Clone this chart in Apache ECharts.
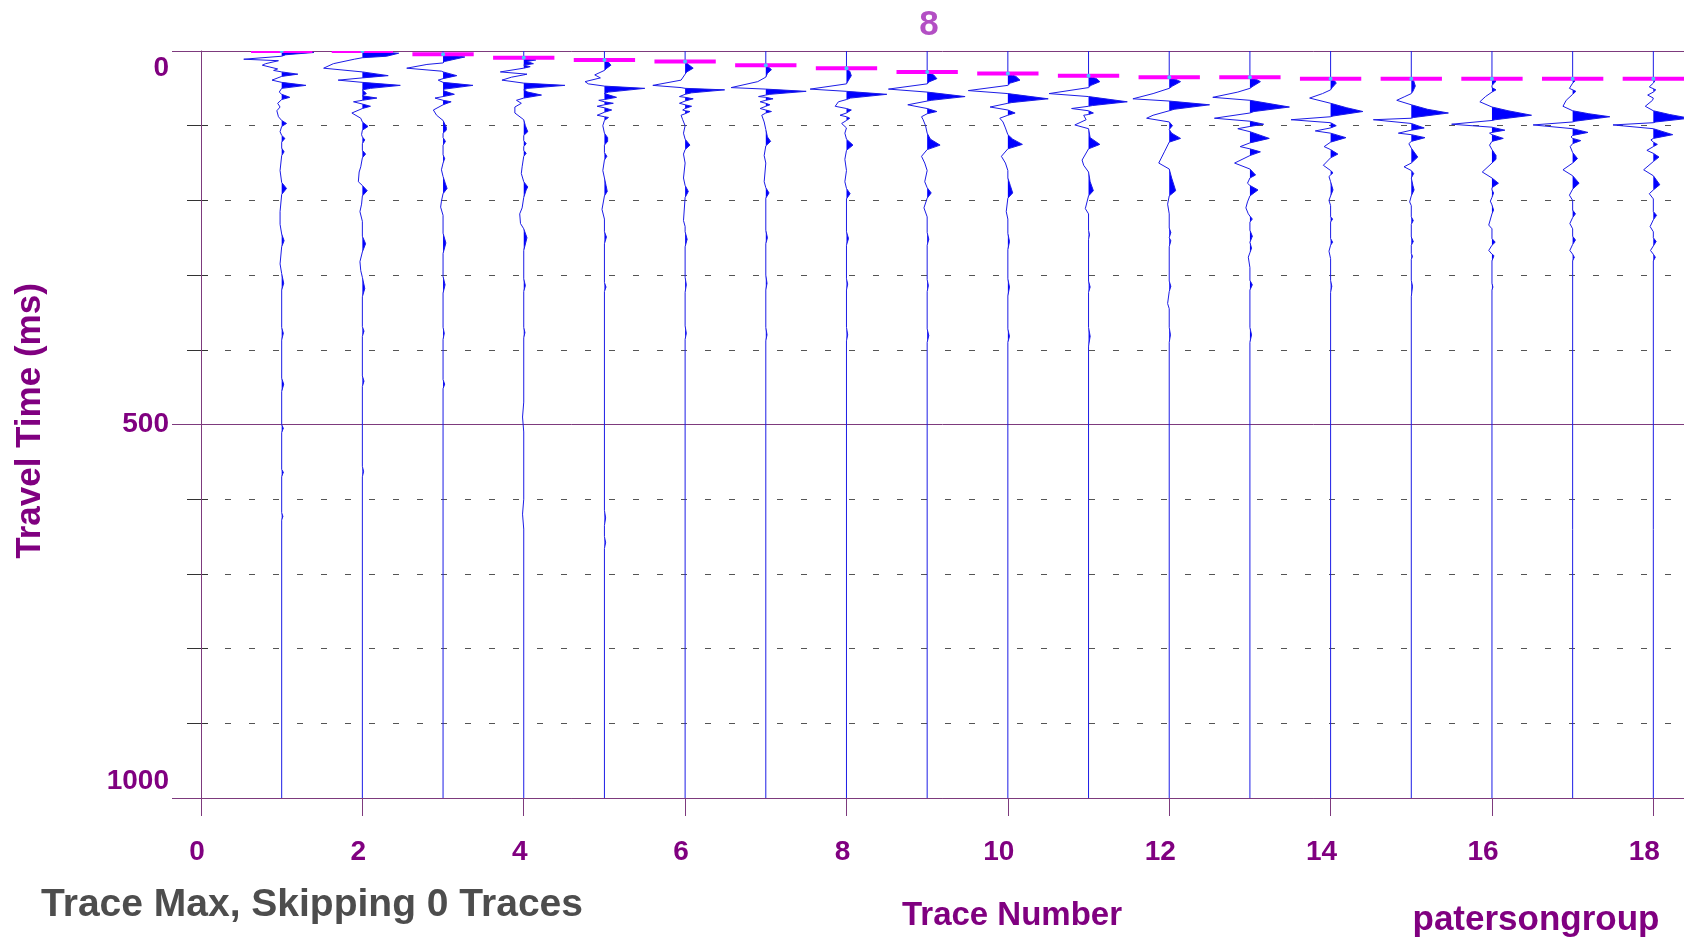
<!DOCTYPE html>
<html>
<head>
<meta charset="utf-8">
<script src="https://cdn.jsdelivr.net/npm/echarts@6.0.0/dist/echarts.min.js"></script>
<style>
html,body{margin:0;padding:0;background:#ffffff;}
#chart{width:1684px;height:940px;}
</style>
</head>
<body>
<div id="chart"></div>
<script>
// ---------------- DATA ----------------
// Trace numbers (x positions of the traces)
const TRACE_NUMBERS = [1,2,3,4,5,6,7,8,9,10,11,12,13,14,15,16,17,18];
// First-break picks (ms) for each trace (magenta marks)
const PICKS = [0,0,4.5,9,12,14,19,23,28,30,33,35,35,37,37,37,37,37];
// X tick labels
const X_TICK_LABELS = [0,2,4,6,8,10,12,14,16,18];
// Y tick labels (ms)
const Y_TICK_LABELS = [0,500,1000];

// Each trace: [time ms, amplitude in trace-spacing units] (positive = to the right, filled)
const TRACE_1 = [[0,0],[2,0.40],[5,0.05],[7,0],[11,-0.47],[13,-0.04],[17,-0.20],[19,-0.24],[24,-0.05],[26,-0.10],[28,0],[31,0.20],[34,0],[39,-0.12],[42,0],[46,0.30],[50,0],[55,-0.03],[58,0],[62,0.10],[65,0],[70,-0.05],[75,-0.02],[80,-0.06],[88,-0.04],[93,0],[97,0.06],[101,0],[108,-0.02],[113,0],[117,0.04],[122,0],[130,0],[135,0.03],[140,0],[160,-0.02],[176,0],[184,0.06],[192,0],[215,-0.02],[232,-0.02],[245,0],[254,0.03],[262,0],[285,-0.02],[298,0],[311,0.025],[320,0],[370,0],[378,0.02],[387,0],[438,0],[446,0.025],[456,0],[500,0],[505,0.02],[511,0],[560,0],[564,0.02],[570,0],[618,0],[623,0.015],[628,0],[1000,0]];
const TRACE_2 = [[0,0],[3,0.45],[7,0.30],[9,0],[11,-0.10],[17,-0.36],[23,-0.48],[28,0],[33,0.32],[36,0],[39,-0.30],[42,0],[46,0.47],[50,0.10],[52,0],[57,0.05],[60,0],[63,0.18],[66,0],[68,-0.11],[71,0],[74,0.10],[77,0],[83,-0.13],[90,-0.02],[95,0],[101,0.07],[106,0],[112,-0.01],[115,0],[119,0.03],[124,0],[133,0],[138,0.04],[143,0],[155,-0.02],[162,-0.04],[175,-0.05],[180,0],[187,0.06],[194,0],[205,-0.01],[215,-0.03],[228,0],[248,0],[258,0.04],[269,0],[282,-0.03],[294,-0.02],[303,0],[318,0.03],[329,0],[369,0],[375,0.02],[382,0],[435,0],[442,0.02],[449,0],[556,0],[563,0.015],[570,0],[1000,0]];
const TRACE_3 = [[0,0],[4,0],[8,0.27],[14,0.02],[16,0],[18,-0.20],[23,-0.45],[27,-0.02],[28,0],[33,0.17],[37,0],[39,-0.06],[42,0],[46,0.37],[51,0.02],[53,0],[58,0.14],[61,0],[63,-0.10],[66,0],[68,0.10],[72,0],[79,-0.12],[86,-0.08],[93,0],[102,0.04],[106,0.04],[110,0],[116,0],[121,0.03],[126,0],[139,0],[144,0.02],[150,0],[159,-0.02],[168,0],[178,0.03],[184,0.05],[191,0],[201,-0.02],[209,-0.03],[220,0],[244,0],[257,0.035],[271,0],[302,0],[313,0.025],[324,0],[370,0],[378,0.015],[386,0],[440,0],[446,0.02],[452,0],[1000,0]];
const TRACE_4 = [[0,0],[9,0],[12,0.15],[14,0.04],[17,0.12],[19,0],[21,0.08],[23,0],[28,-0.29],[31,0.04],[32,0],[35,-0.15],[39,-0.27],[43,0],[46,0.51],[50,0.05],[52,0],[55,0.05],[59,0.22],[63,0],[66,-0.09],[70,-0.03],[75,-0.11],[83,-0.11],[92,0],[100,0.02],[108,0.05],[113,0],[120,0],[124,0.03],[128,0],[133,0],[137,0.03],[141,0],[155,-0.02],[164,-0.03],[175,0],[182,0.05],[186,0.03],[196,0],[210,-0.02],[218,-0.05],[231,-0.04],[238,0],[250,0.04],[267,0],[305,0],[314,0.02],[322,0],[370,0],[377,0.015],[384,0],[470,0],[490,-0.015],[510,0],[600,0],[620,-0.015],[640,0],[1000,0]];
const TRACE_5 = [[0,0],[12,0],[15,0.05],[19,0.08],[23,0.03],[26,0],[32,-0.12],[36,-0.05],[41,-0.24],[44,-0.20],[47,0],[50,0.50],[55,0.05],[57,0],[62,0.15],[65,0],[66,-0.07],[68,0],[70,0.11],[72,0],[74,-0.09],[76,0],[79,0.09],[82,0],[86,-0.09],[88,0],[89,0.05],[93,0],[100,-0.02],[110,0],[116,0.04],[121,0.04],[126,0],[136,0],[141,0.03],[146,0],[160,-0.02],[170,0],[180,0.02],[188,0.035],[194,0],[212,-0.03],[225,0],[242,0],[249,0.025],[258,0],[310,0],[316,0.02],[322,0],[615,0],[625,0.015],[635,0],[650,0],[658,0.015],[666,0],[1000,0]];
const TRACE_6 = [[0,0],[14,0],[18,0.04],[23,0.10],[28,0.02],[31,0],[39,-0.05],[46,-0.40],[49,-0.05],[50,0],[52,0.49],[56,0.08],[58,0],[61,-0.07],[62,0],[64,0.10],[67,0],[70,-0.07],[72,0],[74,0.08],[77,0],[79,-0.03],[80,0],[81,0.06],[84,0],[86,-0.05],[92,-0.03],[100,0],[110,-0.02],[118,0],[126,0.06],[132,0],[138,-0.02],[150,0],[170,-0.02],[180,0],[188,0.04],[196,0],[227,-0.02],[235,0],[242,0],[252,0.025],[262,0],[303,0],[313,0.015],[323,0],[368,0],[378,0.015],[386,0],[1000,0]];
const TRACE_7 = [[0,0],[19,0],[22,0.04],[25,0.07],[30,0.02],[35,0],[41,-0.10],[49,-0.43],[51,0],[54,0.50],[58,0.05],[59,0],[61,-0.09],[62,0],[64,0.09],[66,0],[68,-0.07],[70,0],[72,0.05],[74,0],[77,-0.07],[79,0],[81,0.07],[83,0],[86,-0.05],[95,-0.02],[105,0],[115,0.02],[121,0.06],[127,0],[140,-0.02],[150,0],[175,-0.02],[183,0],[190,0.04],[197,0],[240,0],[250,0.02],[258,0],[300,0],[311,0.015],[320,0],[370,0],[380,0.015],[388,0],[1000,0]];
const TRACE_8 = [[0,0],[23,0],[27,0.04],[33,0.06],[40,0.02],[44,0],[51,-0.45],[54,0],[58,0.50],[63,0.05],[65,0],[68,-0.10],[74,-0.14],[77,0],[79,0.06],[83,0],[86,-0.08],[88,0],[90,0.04],[93,0],[97,-0.06],[103,0],[110,-0.02],[118,0],[126,0.08],[133,0],[145,-0.02],[160,0],[175,-0.02],[184,0],[191,0.045],[198,0],[242,0],[251,0.025],[260,0],[305,0],[312,0.015],[320,0],[370,0],[380,0.015],[388,0],[1000,0]];
const TRACE_9 = [[0,0],[28,0],[32,0.08],[37,0.12],[41,0.03],[44,0],[51,-0.48],[55,0],[61,0.47],[66,0.05],[67,0],[72,-0.24],[77,0],[81,0.12],[84,0],[88,-0.07],[92,-0.05],[100,-0.02],[110,0],[118,0.04],[126,0.16],[132,0],[141,-0.07],[150,-0.03],[160,0],[175,-0.03],[183,0],[190,0.05],[197,0],[210,-0.04],[222,0],[243,0],[252,0.02],[260,0],[306,0],[314,0.015],[322,0],[372,0],[381,0.02],[390,0],[1000,0]];
const TRACE_10 = [[0,0],[30,0],[34,0.10],[39,0.15],[43,0.03],[46,0],[53,-0.49],[57,0],[64,0.50],[69,0.05],[70,0],[75,-0.22],[79,0],[83,0.09],[86,0],[90,-0.10],[95,-0.06],[103,-0.03],[112,0],[118,0.06],[125,0.18],[131,0],[141,-0.08],[150,-0.03],[160,0],[170,0],[180,0.03],[190,0.06],[197,0],[215,-0.02],[225,0],[244,0],[255,0.02],[266,0],[305,0],[316,0.02],[328,0],[372,0],[382,0.02],[390,0],[1000,0]];
const TRACE_11 = [[0,0],[33,0],[37,0.10],[41,0.14],[46,0.03],[49,0],[57,-0.49],[61,0],[68,0.48],[73,0.05],[74,0],[77,-0.21],[80,0],[83,0.06],[85,0],[86,-0.06],[92,-0.03],[99,-0.17],[104,0],[116,0.02],[125,0.14],[131,0],[146,-0.08],[153,-0.06],[162,0],[175,0.02],[187,0.06],[194,0],[211,-0.04],[218,0],[240,0],[246,0.012],[252,0],[308,0],[316,0.02],[323,0],[370,0],[382,0.02],[395,0],[1000,0]];
const TRACE_12 = [[0,0],[35,0],[38,0.08],[41,0.14],[47,0.04],[50,0],[57,-0.20],[64,-0.45],[67,0],[72,0.50],[78,0.06],[80,0],[86,-0.20],[90,-0.28],[95,0],[100,0.04],[105,0],[110,0.03],[117,0.14],[122,0],[135,-0.06],[150,-0.13],[158,0],[170,0.03],[187,0.08],[194,0],[205,-0.02],[218,0],[237,0],[243,0.02],[250,0],[254,0.02],[262,0],[308,0],[315,0.02],[322,0],[338,-0.02],[345,0],[370,0],[380,0.015],[390,0],[1000,0]];
const TRACE_13 = [[0,0],[35,0],[38,0.08],[41,0.13],[47,0.04],[50,0],[55,-0.15],[62,-0.46],[66,0],[75,0.49],[81,0.05],[83,0],[90,-0.44],[94,0],[98,0.17],[101,0],[104,-0.15],[108,0],[117,0.24],[123,0],[128,-0.12],[131,0],[135,0.13],[140,0],[150,-0.19],[158,0],[166,0.07],[170,0],[177,-0.03],[180,0],[186,0.10],[194,0],[202,-0.03],[210,-0.05],[218,-0.02],[221,0],[225,0.03],[229,0],[240,0],[248,0.03],[256,0],[264,0.02],[270,0],[276,-0.02],[290,0],[307,0],[313,0.03],[320,0],[370,0],[380,0.02],[390,0],[1000,0]];
const TRACE_14 = [[0,0],[37,0],[40,0.05],[43,0.07],[49,0.02],[52,0],[57,-0.10],[63,-0.26],[70,0],[76,0.20],[81,0.40],[87,0.03],[88,0],[92,-0.49],[96,0],[100,0.07],[103,0],[107,-0.19],[110,0],[116,0.19],[122,0],[128,-0.08],[132,0],[138,0.09],[143,0],[153,-0.09],[160,0],[163,0.03],[166,0],[168,-0.02],[175,0],[186,0.03],[194,0],[200,-0.02],[207,0],[222,0],[225,0.025],[229,0],[251,0],[256,0.025],[260,0],[268,-0.02],[278,0],[307,0],[315,0.015],[323,0],[1000,0]];
const TRACE_15 = [[0,0],[37,0],[40,0.03],[47,0.05],[54,0.02],[57,0],[61,-0.08],[66,-0.18],[72,0],[78,0.20],[83,0.46],[89,0.03],[90,0],[92,-0.47],[97,0],[103,0.16],[106,0],[110,-0.16],[112,0],[116,0.17],[121,0],[124,-0.03],[130,0],[142,0.08],[150,0],[155,-0.09],[160,0],[164,0.03],[170,0],[180,0.02],[186,0.035],[194,0],[202,-0.02],[207,0],[222,0],[227,0.025],[232,0],[249,0],[255,0.025],[260,0],[271,0],[275,0.015],[279,0],[307,0],[315,0.015],[329,0],[1000,0]];
const TRACE_16 = [[0,0],[37,0],[40,0.05],[43,0.03],[46,0],[49,0],[52,0.05],[55,0],[61,-0.08],[68,-0.15],[75,0],[80,0.20],[86,0.49],[92,0.04],[93,0],[98,-0.50],[102,0],[106,0.16],[109,0],[110,-0.03],[112,0],[117,0.14],[121,0],[126,-0.03],[132,0],[140,0.05],[145,0.05],[150,0],[162,-0.12],[170,0],[177,0.08],[183,0],[186,0],[190,0.02],[196,0],[201,-0.02],[206,0],[213,0.02],[218,0],[233,-0.04],[238,0],[251,0],[256,0.04],[260,0],[267,-0.04],[272,0],[274,0.025],[281,0],[311,0],[316,0.012],[320,0],[1000,0]];
const TRACE_17 = [[0,0],[37,0],[40,0.03],[43,0],[50,-0.04],[54,0.04],[58,0],[66,-0.08],[74,-0.12],[80,0],[84,0.20],[88,0.46],[94,0.03],[95,0],[99,-0.49],[104,0],[109,0.19],[113,0],[115,-0.02],[117,0],[120,0.10],[124,0],[128,-0.03],[136,0],[144,0.06],[150,0],[159,-0.12],[167,0],[177,0.08],[185,0],[193,-0.04],[200,0],[213,0],[218,0.035],[223,0],[231,-0.035],[238,0],[248,0],[253,0.035],[259,0],[267,-0.035],[272,0],[276,0.02],[281,0],[1000,0]];
const TRACE_18 = [[0,0],[37,0],[40,0.02],[43,0],[48,-0.05],[52,0.03],[55,0],[59,-0.07],[63,0],[66,-0.01],[74,-0.10],[80,0],[85,0.20],[90,0.45],[95,0.03],[96,0],[99,-0.50],[104,0],[112,0.24],[117,0],[119,-0.03],[122,0],[125,0.05],[128,0],[133,-0.08],[137,0],[142,0.07],[148,0],[159,-0.12],[167,0],[179,0.08],[186,0],[191,-0.05],[198,0],[215,0],[220,0.04],[226,0],[235,-0.04],[242,0],[250,0],[255,0.035],[261,0],[267,-0.035],[272,0],[276,0.025],[281,0],[1000,0]];

const TRACES = [TRACE_1,TRACE_2,TRACE_3,TRACE_4,TRACE_5,TRACE_6,TRACE_7,TRACE_8,TRACE_9,
  TRACE_10,TRACE_11,TRACE_12,TRACE_13,TRACE_14,TRACE_15,TRACE_16,TRACE_17,TRACE_18];

// ---------------- STYLE ----------------
const FONT = '"Liberation Sans", Arial, Helvetica, sans-serif';
const PURPLE = '#800080';
const AXIS_COLOR = '#7d3a7d';
const TITLE_COLOR = '#b34fc4';
const TRACE_LINE = '#1c1ce6';
const TRACE_FILL = '#0000ff';
const PICK_COLOR = '#ff00ff';
const PICK_HALF_WIDTH = 0.38;

const chart = echarts.init(document.getElementById('chart'), null, {renderer: 'canvas'});

function positiveLobes(n, tr, api) {
  const polys = [];
  let cur = null;
  for (let i = 0; i < tr.length; i++) {
    const t = tr[i][0], a = tr[i][1];
    if (a > 0) {
      if (!cur) {
        let t0 = t;
        if (i > 0) {
          const tp = tr[i-1][0], ap = tr[i-1][1];
          t0 = ap >= 0 ? tp : tp + (t - tp) * (-ap) / (a - ap);
        }
        cur = [api.coord([n, t0])];
      }
      cur.push(api.coord([n + a, t]));
    } else if (cur) {
      const tp = tr[i-1][0], ap = tr[i-1][1];
      const t1 = a === 0 ? t : tp + (t - tp) * ap / (ap - a);
      cur.push(api.coord([n, t1]));
      polys.push(cur);
      cur = null;
    }
  }
  if (cur) { cur.push(api.coord([n, tr[tr.length-1][0]])); polys.push(cur); }
  return polys;
}

const labelFont = {color: PURPLE, fontFamily: FONT, fontWeight: 'bold', fontSize: 28};

const option = {
  animation: false,
  backgroundColor: '#ffffff',
  grid: {left: 201, right: 0, top: 51, bottom: 142, containLabel: false},
  xAxis: {
    type: 'value', min: 0, max: 18.38, interval: 2, position: 'bottom',
    axisLine: {show: true, onZero: false, lineStyle: {color: AXIS_COLOR, width: 1}},
    axisTick: {show: true, length: 18, lineStyle: {color: AXIS_COLOR, width: 1}},
    axisLabel: Object.assign({margin: 40, showMaxLabel: false,
      formatter: v => {
        if (X_TICK_LABELS.indexOf(v) < 0) return '';
        return String(v).length > 1 ? '{two|' + v + '}' : '{one|' + v + '}';
      },
      rich: {
        one: Object.assign({padding: [0, 8, 0, 0]}, labelFont),
        two: Object.assign({padding: [0, 18, 0, 0]}, labelFont)
      }
    }, labelFont),
    splitLine: {show: false}
  },
  yAxis: [
    {
      type: 'value', inverse: true, min: 0, max: 1000, interval: 500, position: 'left', z: 1,
      axisLine: {show: true, onZero: false, lineStyle: {color: AXIS_COLOR, width: 1}},
      axisTick: {show: true, length: 29, lineStyle: {color: AXIS_COLOR, width: 1}},
      splitLine: {show: true, lineStyle: {color: AXIS_COLOR, width: 1}},
      axisLabel: Object.assign({
        margin: 32,
        formatter: v => {
          if (Y_TICK_LABELS.indexOf(v) < 0) return '';
          if (v === Y_TICK_LABELS[0]) return '{top|' + v + '}';
          if (v === Y_TICK_LABELS[Y_TICK_LABELS.length-1]) return '{bot|' + v + '}';
          return '{mid|' + v + '}';
        },
        rich: {
          top: Object.assign({padding: [35, 0, 0, 0]}, labelFont),
          mid: Object.assign({}, labelFont),
          bot: Object.assign({padding: [0, 0, 33, 0]}, labelFont)
        }
      }, labelFont)
    },
    {
      type: 'value', inverse: true, min: 0, max: 1000, interval: 100, position: 'left', z: 0,
      axisLine: {show: false, onZero: false},
      axisTick: {show: true, length: 14, lineStyle: {color: '#333333', width: 1}},
      axisLabel: {show: false},
      splitLine: {show: true, lineStyle: {color: '#555555', width: 1, type: [6, 18]}}
    },
    {
      type: 'value', inverse: true, min: 0, max: 1000, interval: 100, position: 'left', z: 0,
      axisLine: {show: false, onZero: false},
      axisTick: {show: true, inside: true, length: 7, lineStyle: {color: '#333333', width: 1}},
      axisLabel: {show: false},
      splitLine: {show: false}
    }
  ],
  series: [
    {
      type: 'custom', name: 'Traces', coordinateSystem: 'cartesian2d',
      xAxisIndex: 0, yAxisIndex: 0, clip: true, z: 2, silent: true,
      data: TRACE_NUMBERS.map(n => [n, 0]),
      encode: {x: 0, y: 1},
      renderItem: function (params, api) {
        const idx = params.dataIndex;
        const n = TRACE_NUMBERS[idx];
        const tr = TRACES[idx];
        const children = positiveLobes(n, tr, api).map(pts => ({
          type: 'polygon', shape: {points: pts}, style: {fill: TRACE_FILL, stroke: null}
        }));
        children.push({
          type: 'polyline',
          shape: {points: tr.map(p => api.coord([n + p[1], p[0]]))},
          style: {stroke: TRACE_LINE, lineWidth: 1, fill: null}
        });
        return {type: 'group', children: children};
      }
    },
    {
      type: 'custom', name: 'First breaks', coordinateSystem: 'cartesian2d',
      xAxisIndex: 0, yAxisIndex: 0, clip: true, z: 3, silent: true,
      data: PICKS.map((t, i) => [TRACE_NUMBERS[i], t]),
      encode: {x: 0, y: 1},
      renderItem: function (params, api) {
        const n = api.value(0), t = api.value(1);
        const a = api.coord([n - PICK_HALF_WIDTH, t]);
        const b = api.coord([n + PICK_HALF_WIDTH, t]);
        const c = api.coord([n, t]);
        return {type: 'group', children: [
          {type: 'line', shape: {x1: a[0], y1: a[1], x2: b[0], y2: b[1]},
           style: {stroke: PICK_COLOR, lineWidth: 4}},
          {type: 'circle', shape: {cx: c[0], cy: c[1], r: 2}, style: {fill: '#45c8ff'}}
        ]};
      }
    }
  ],
  graphic: [
    {type: 'text', x: 929, y: 25, style: {text: '8', fill: TITLE_COLOR,
      font: 'bold 35px ' + FONT, textAlign: 'center', textVerticalAlign: 'middle', align: 'center', verticalAlign: 'middle'}},
    {type: 'text', x: 30, y: 421, rotation: Math.PI / 2, style: {text: 'Travel Time (ms)', fill: PURPLE,
      font: 'bold 35px ' + FONT, textAlign: 'center', textVerticalAlign: 'middle', align: 'center', verticalAlign: 'middle'}},
    {type: 'text', x: 1012, y: 916, style: {text: 'Trace Number', fill: PURPLE,
      font: 'bold 33px ' + FONT, textAlign: 'center', textVerticalAlign: 'middle', align: 'center', verticalAlign: 'middle'}},
    {type: 'text', x: 312, y: 905, style: {text: 'Trace Max, Skipping 0 Traces', fill: '#4d4d4d',
      font: 'bold 39px ' + FONT, textAlign: 'center', textVerticalAlign: 'middle', align: 'center', verticalAlign: 'middle'}},
    {type: 'text', x: 1536, y: 920, style: {text: 'patersongroup', fill: PURPLE,
      font: 'bold 35px ' + FONT, textAlign: 'center', textVerticalAlign: 'middle', align: 'center', verticalAlign: 'middle'}}
  ]
};

chart.setOption(option);
</script>
</body>
</html>
